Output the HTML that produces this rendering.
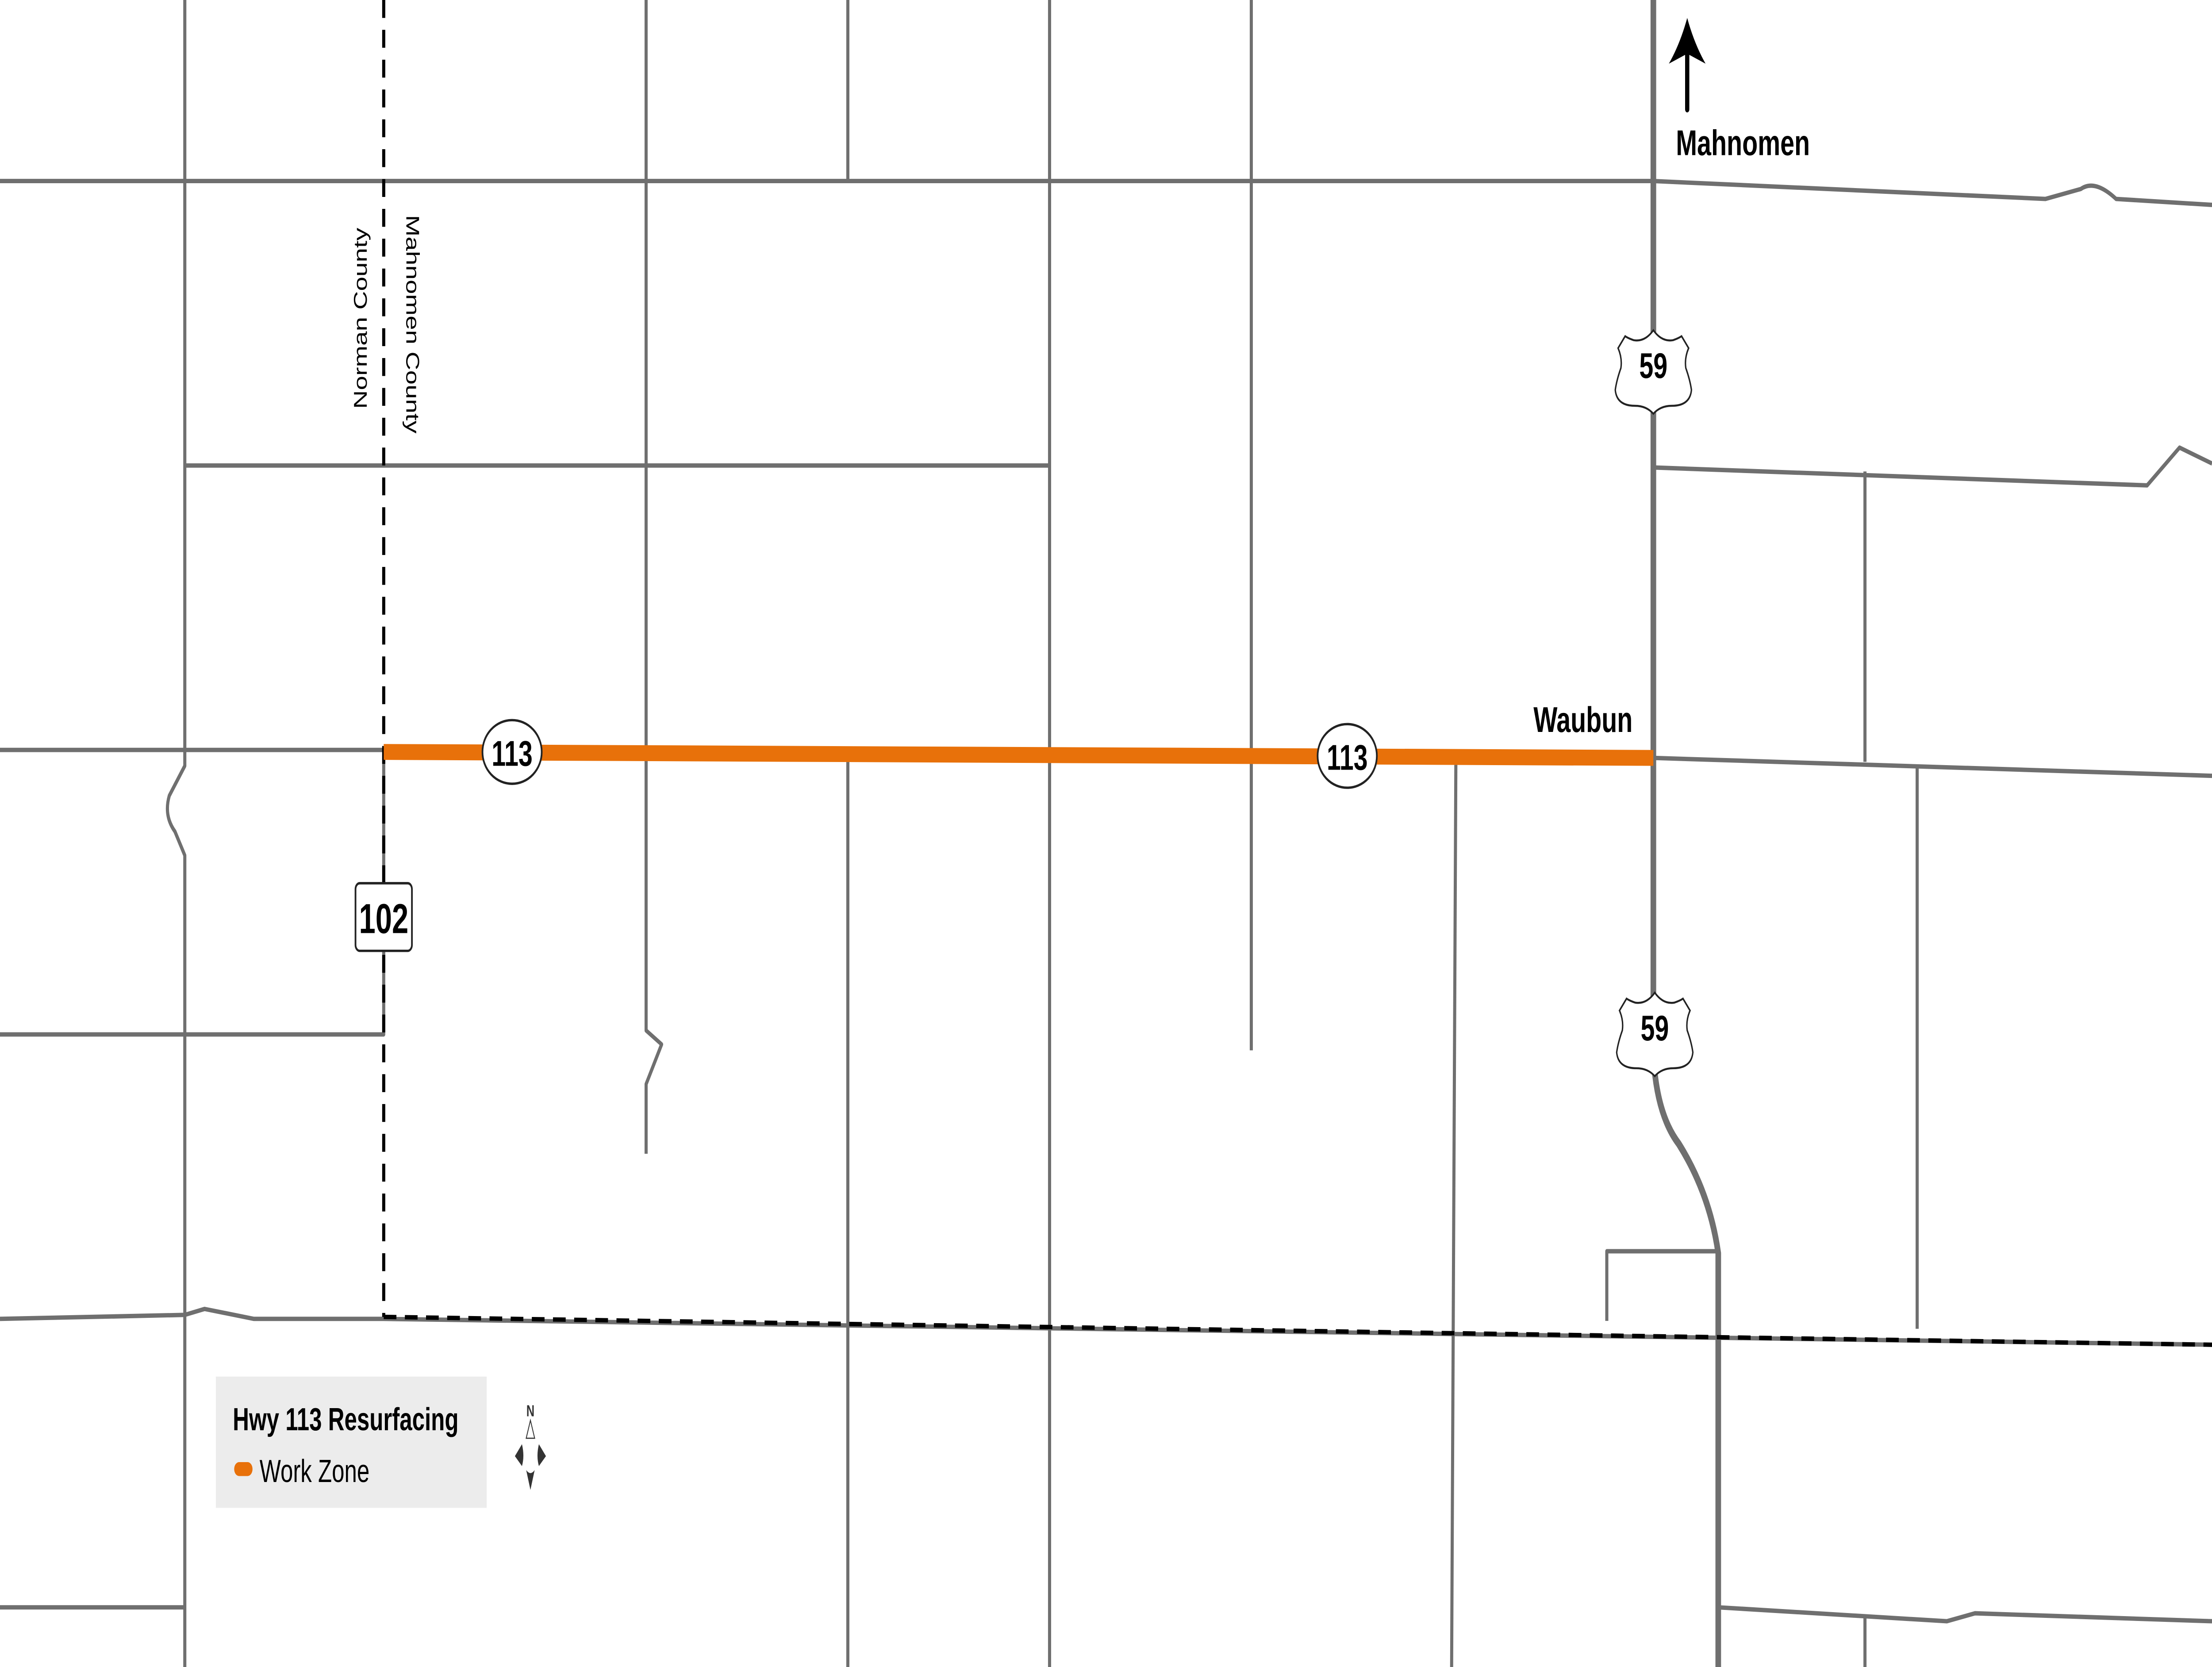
<!DOCTYPE html>
<html><head><meta charset="utf-8"><style>html,body{margin:0;padding:0;background:#fff;width:100%;height:100%;overflow:hidden;}svg{display:block;position:fixed;left:0;top:0;width:100vw;height:100vh;}</style></head>
<body>
<svg viewBox="0 0 1568 838" preserveAspectRatio="none" xmlns="http://www.w3.org/2000/svg" font-family="'Liberation Sans', sans-serif">
<rect width="1568" height="838" fill="#fff"/>
<g fill="none" stroke="#6f6f6f" stroke-width="2.2" stroke-linejoin="round">
<path d="M131,0 V385 L120,400 Q116,410 124,418 L131,430 V838"/>
<path d="M458,0 V518 L469,525 L458,545 V580"/>
<path d="M601,0 V91 M601,380 V838"/>
<path d="M744,0 V838"/>
<path d="M887,0 V528"/>
<path d="M1032,383 L1029,838"/>
<path d="M1322,237 V383"/>
<path d="M1359,385 V668"/>
<path d="M1139,664 V629 H1216"/>
<path d="M1322,812 V838"/>
<path d="M0,91 H1172 L1450,100 L1475,95 Q1485,90 1500,100 L1568,103"/>
<path d="M131,234 H744"/>
<path d="M1172,235 L1522,244 L1545,225 L1568,233"/>
<path d="M0,377 H272"/>
<path d="M1172,381 L1568,390"/>
<path d="M0,520 H272 V378"/>
<path d="M0,663 L131,661 L145,658 L180,663 L272,663 L1568,676"/>
<path d="M0,808 H131"/>
<path d="M1218,808 L1380,815 L1400,811 L1568,815"/>
</g>
<path d="M1172,0 V530 Q1174,560 1190,575 Q1212,600 1218,630 V838" fill="none" stroke="#6f6f6f" stroke-width="4"/>
<g fill="none" stroke="#000" stroke-width="2.2" stroke-dasharray="9,6">
<path d="M272,0 V662"/>
<path d="M272,662 L1568,676"/>
</g>
<path d="M272,378 L1172,381" stroke="#e8710a" stroke-width="8" fill="none"/>
<g font-weight="bold" text-anchor="middle">
<ellipse cx="363" cy="378" rx="21" ry="16" fill="#fff" stroke="#222" stroke-width="1.2"/>
<text x="363" y="385" font-size="18">113</text>
<ellipse cx="955" cy="380" rx="21" ry="16" fill="#fff" stroke="#222" stroke-width="1.2"/>
<text x="955" y="387" font-size="18">113</text>
<rect x="252" y="444" width="40" height="34" rx="3" fill="#fff" stroke="#222" stroke-width="1.2"/>
<text x="272" y="469" font-size="21">102</text>
<path d="M1172,166 Q1166,172 1158,171 Q1154,170 1152,169 L1147,175 Q1150,180 1149,185 Q1146,191 1145,196 Q1146,204 1159,204 Q1167,204 1172,208 Q1177,204 1185,204 Q1198,204 1199,196 Q1198,191 1195,185 Q1194,180 1197,175 L1192,169 Q1190,170 1186,171 Q1178,172 1172,166 Z" fill="#fff" stroke="#222" stroke-width="1"/>
<text x="1172" y="190" font-size="18">59</text>
<path d="M1173,499 Q1167,505 1159,504 Q1155,503 1153,502 L1148,508 Q1151,513 1150,518 Q1147,524 1146,529 Q1147,537 1160,537 Q1168,537 1173,541 Q1178,537 1186,537 Q1199,537 1200,529 Q1199,524 1196,518 Q1195,513 1198,508 L1193,502 Q1191,503 1187,504 Q1179,505 1173,499 Z" fill="#fff" stroke="#222" stroke-width="1"/>
<text x="1173" y="523" font-size="18">59</text>
</g>
<text x="1087" y="368" font-size="18" font-weight="bold">Waubun</text>
<text x="1188" y="78" font-size="18" font-weight="bold">Mahnomen</text>
<path d="M1196,55 V20" stroke="#000" stroke-width="3" stroke-linecap="round"/>
<path d="M1196,9 Q1191,22 1183,32 L1196,27 L1209,32 Q1201,22 1196,9 Z" fill="#000"/>
<text transform="translate(260,160) rotate(-90)" font-size="13" text-anchor="middle">Norman County</text>
<text transform="translate(288,163) rotate(90)" font-size="13" text-anchor="middle">Mahnomen County</text>
<rect x="153" y="692" width="192" height="66" fill="#ececec"/>
<text x="165" y="719" font-size="16" font-weight="bold">Hwy 113 Resurfacing</text>
<rect x="166" y="735" width="13" height="7" rx="3.5" fill="#e8710a"/>
<text x="184" y="745" font-size="16">Work Zone</text>
<g fill="#333">
<text x="376" y="712" font-size="8" text-anchor="middle" font-weight="bold">N</text>
<path d="M376,714 L373,723 L379,723 Z" fill="none" stroke="#333" stroke-width="0.6"/>
<path d="M370,726 L365,732 L370,737 Q372,732 370,726 Z"/>
<path d="M382,726 L387,732 L382,737 Q380,732 382,726 Z"/>
<path d="M373,739 L376,749 L379,739 Q376,742 373,739 Z"/>
</g>
</svg>
</body></html>
